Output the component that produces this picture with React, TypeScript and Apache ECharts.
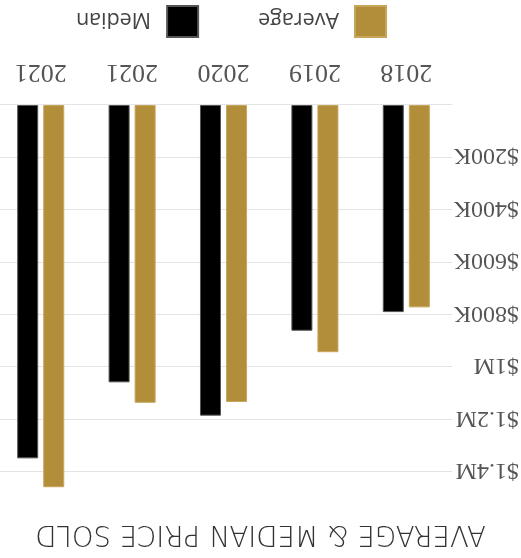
import React, { useEffect, useRef } from "react";
import * as echarts from "echarts";

const categories = ["2018", "2019", "2020", "2021", "2021"];
const averageValues = [772000, 943000, 1133000, 1136000, 1458000];
const medianValues = [790000, 861000, 1185000, 1058000, 1348000];
const seriesNames = ["Average", "Median"];
const titleText = "AVERAGE & MEDIAN PRICE SOLD";

function formatMoney(v: number): string {
  if (v >= 1000000) return "$" + (v / 1000000).toString() + "M";
  return "$" + (v / 1000).toString() + "K";
}

export default function App() {
  const ref = useRef<HTMLDivElement>(null);
  useEffect(() => {
    if (!ref.current) return;
    const chart = echarts.init(ref.current, null, { renderer: "svg" });
    chart.setOption({
      animation: false,
      title: {
        text: titleText,
        left: "center",
        top: 3,
        textStyle: {
          fontFamily: "DejaVu Sans",
          fontWeight: 200,
          fontSize: 27.5,
          color: "#333",
        },
      },
      legend: {
        data: seriesNames,
        bottom: 0,
        left: 129,
        itemWidth: 31,
        itemHeight: 31,
        itemGap: 59,
        icon: "rect",
        textStyle: {
          fontFamily: "Open Sans",
          fontSize: 21.5,
          color: "#444",
          padding: [0, 0, 0, 11],
        },
      },
      grid: {
        left: 69,
        width: 457,
        top: 86,
        bottom: 105,
        containLabel: false,
        outerBoundsMode: "none",
      },
      xAxis: {
        type: "category",
        data: categories,
        axisLine: { show: true, lineStyle: { color: "#e4e4e4" } },
        axisTick: { show: false },
        axisLabel: {
          fontFamily: "Liberation Serif",
          fontSize: 26,
          color: "#555",
          margin: 18,
        },
      },
      yAxis: {
        type: "value",
        min: 0,
        max: 1400000,
        interval: 200000,
        axisLine: { show: false },
        axisTick: { show: false },
        splitLine: { lineStyle: { color: "#e4e4e4", width: 1.2 } },
        axisLabel: {
          showMinLabel: false,
          align: "left",
          margin: 67,
          fontFamily: "Liberation Serif",
          fontSize: 24,
          color: "#555",
          formatter: (v: number) => formatMoney(v),
        },
      },
      series: [
        {
          name: seriesNames[0],
          type: "bar",
          data: averageValues,
          barWidth: 21,
          barGap: "24%",
          clip: false,
          itemStyle: { color: "#b28e3a", borderColor: "#c7a65a", borderWidth: 1 },
        },
        {
          name: seriesNames[1],
          type: "bar",
          data: medianValues,
          barWidth: 21,
          barGap: "24%",
          clip: false,
          itemStyle: { color: "#000000", borderColor: "#555555", borderWidth: 1 },
        },
      ],
    });
    return () => chart.dispose();
  }, []);
  return (
    <div
      ref={ref}
      style={{
        position: "fixed",
        left: 0,
        top: 0,
        width: 521,
        height: 558,
        transform: "rotate(180deg)",
        background: "#fff",
      }}
    />
  );
}
